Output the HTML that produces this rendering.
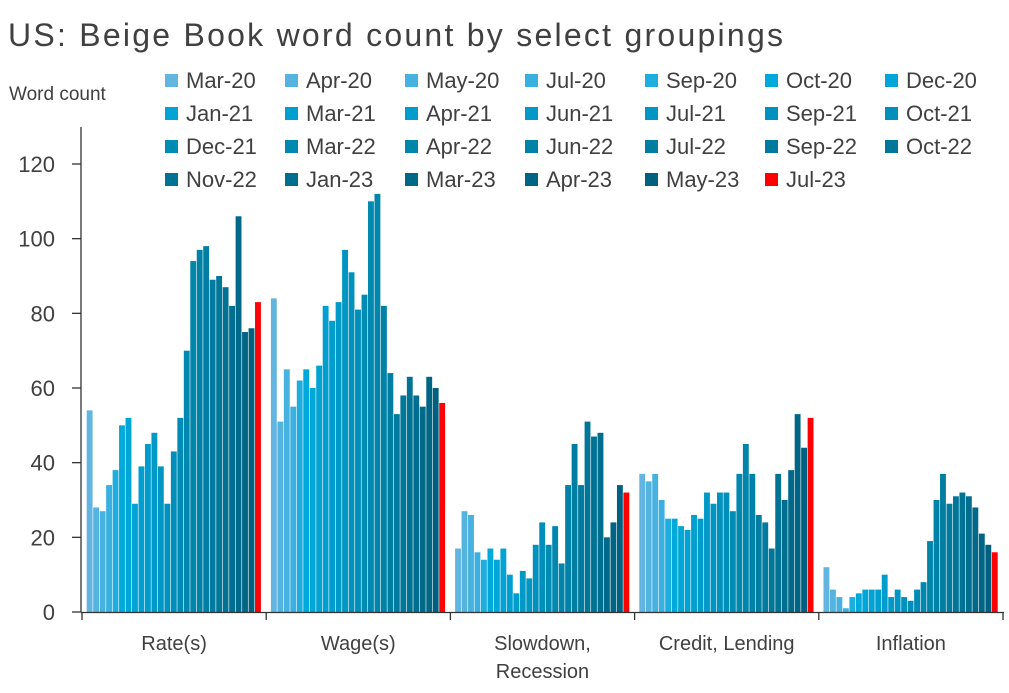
<!DOCTYPE html>
<html><head><meta charset="utf-8"><style>
body{margin:0;background:#fff;width:1009px;height:688px;overflow:hidden;font-family:"Liberation Sans",sans-serif}
svg text{font-family:"Liberation Sans",sans-serif;fill:#404040}
</style></head><body>
<svg id="c" width="1009" height="688">
<text x="8" y="46" font-size="32" textLength="775" lengthAdjust="spacing">US: Beige Book word count by select groupings</text>
<text x="9" y="100" font-size="19">Word count</text>
</svg>
<script>
const categories=["Rate(s)","Wage(s)","Slowdown,|Recession","Credit, Lending","Inflation"];
const seriesNames=["Mar-20","Apr-20","May-20","Jul-20","Sep-20","Oct-20","Dec-20","Jan-21","Mar-21","Apr-21","Jun-21","Jul-21","Sep-21","Oct-21","Dec-21","Mar-22","Apr-22","Jun-22","Jul-22","Sep-22","Oct-22","Nov-22","Jan-23","Mar-23","Apr-23","May-23","Jul-23"];
const rateVals=[54,28,27,34,38,50,52,29,39,45,48,39,29,43,52,70,94,97,98,89,90,87,82,106,75,76,83];
const wageVals=[84,51,65,55,62,65,60,66,82,78,83,97,91,81,85,110,112,82,64,53,58,63,58,55,63,60,56];
const slowVals=[17,27,26,16,14,17,14,17,10,5,11,9,18,24,18,23,13,34,45,34,51,47,48,20,24,34,32];
const creditVals=[37,35,37,30,25,25,23,22,26,25,32,29,32,32,27,37,45,37,26,24,17,37,30,38,53,44,52];
const inflVals=[12,6,4,1,4,5,6,6,6,10,4,6,4,3,6,8,19,30,37,29,31,32,31,28,21,18,16];
const yTicks=[0,20,40,60,80,100,120];

const groupVals=[rateVals,wageVals,slowVals,creditVals,inflVals];
const svg=document.getElementById('c');
const NS='http://www.w3.org/2000/svg';
const x0=82,gw=184.2,y0=612,yMaxPx=164,yMax=120;
const yS=v=>y0-(v/yMax)*(y0-yMaxPx);
const stops=[[0,[98,181,224]],[3,[58,176,224]],[5,[0,169,219]],[10,[0,153,200]],[15,[0,136,176]],[20,[0,119,153]],[25,[0,96,128]]];
function col(i){if(i===26)return '#ff0000';for(let k=0;k<stops.length-1;k++){const[a,ca]=stops[k],[b,cb]=stops[k+1];if(i>=a&&i<=b){const t=(i-a)/(b-a);return 'rgb('+ca.map((c,j)=>Math.round(c+(cb[j]-c)*t)).join(',')+')';}}return 'rgb(0,96,128)';}
function el(t,a){const e=document.createElementNS(NS,t);for(const k in a)e.setAttribute(k,a[k]);svg.appendChild(e);return e;}
let ya=el('line',{x1:81,y1:127,x2:81,y2:612,stroke:'#333','stroke-width':1.3});


yTicks.forEach(v=>{const y=yS(v);
let tk=el('line',{x1:72,y1:y,x2:81,y2:y,stroke:'#333','stroke-width':1.3});


let t=el('text',{x:55,y:y+8,'font-size':22,'text-anchor':'end'});t.textContent=v;

});
const bw=(gw-9.4)/27;
groupVals.forEach((vals,g)=>{const gx=x0+g*gw+4.7;
vals.forEach((v,i)=>{const y=yS(v);
let r=el('rect',{x:gx+i*bw,y:y,width:bw-0.6,height:y0-y,fill:col(i)});

});});
let xa=el('line',{x1:81,y1:612.5,x2:1004,y2:612.5,stroke:'#333','stroke-width':1.3});


for(let g=0;g<=5;g++){const x=x0+g*gw;
let tk=el('line',{x1:x,y1:612,x2:x,y2:620,stroke:'#333','stroke-width':1.3});

}
categories.forEach((c,g)=>{const cx=x0+g*gw+gw/2;c.split('|').forEach((ln,k)=>{
let t=el('text',{x:cx,y:650+k*28,'font-size':20,'text-anchor':'middle'});t.textContent=ln;

});});
seriesNames.forEach((n,i)=>{const c=i%7,r=Math.floor(i/7);const lx=165+c*120,ly=80+r*33;
let m=el('rect',{x:lx,y:ly-6,width:13,height:13,fill:col(i)});


let t=el('text',{x:lx+21,y:ly+8,'font-size':22});t.textContent=n;

});
</script>
</body></html>
